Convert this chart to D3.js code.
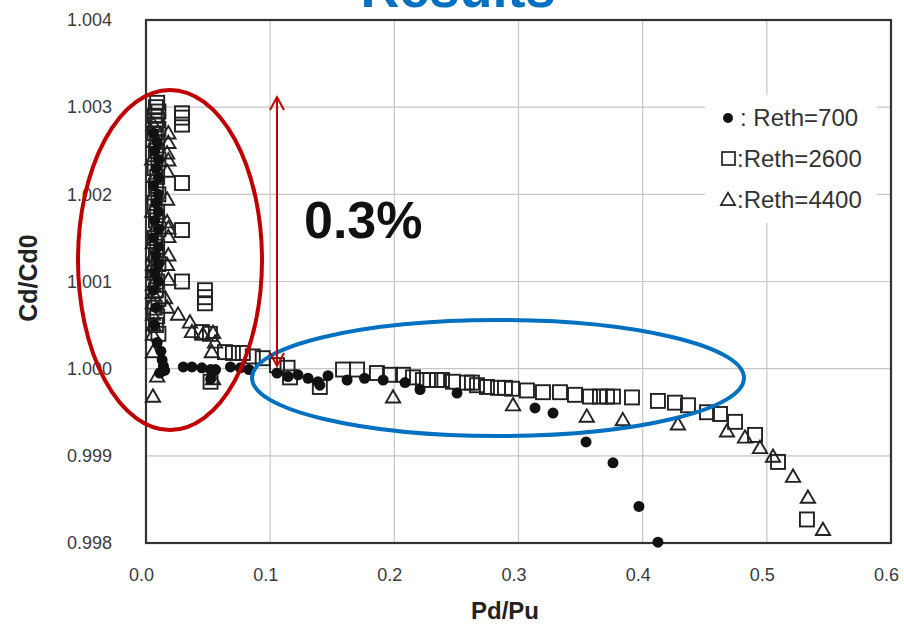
<!DOCTYPE html>
<html>
<head>
<meta charset="utf-8">
<script src="https://cdn.jsdelivr.net/npm/d3@7"></script>
<style>
  body { margin: 0; background: #fff; }
  svg { display: block; font-family: Arial, "Liberation Sans", sans-serif; }
</style>
</head>
<body>
<svg id="chart" width="904" height="632"></svg>
<script>
// Pd/Pu, Cd/Cd0 pairs
const reth700 = [
  [0.006,1.0027],[0.009,1.0026],[0.007,1.0025],[0.010,1.0024],[0.008,1.0023],[0.010,1.0022],
  [0.006,1.0021],[0.010,1.0020],[0.008,1.0019],[0.010,1.0018],[0.007,1.0017],[0.010,1.0016],
  [0.006,1.0015],[0.010,1.0014],[0.008,1.0013],[0.010,1.0012],[0.007,1.0011],[0.010,1.0010],
  [0.006,1.0009],[0.008,1.0007],[0.007,1.0005],
  [0.009,1.0003],[0.012,1.0002],[0.013,1.0001],[0.014,1.00003],[0.015,0.99998],[0.011,0.99995],
  [0.030,1.00002],[0.037,1.00002],[0.045,1.00001],[0.052,0.99999],[0.056,0.99999],[0.068,1.00002],
  [0.076,1.00001],[0.083,0.99999],[0.052,0.99988],[0.1055,0.99995],[0.1144,0.99991],[0.1224,0.99993],
  [0.1305,0.99989],[0.1385,0.99985],[0.14,0.99981],[0.1466,0.99992],[0.162,0.99987],[0.176,0.99989],
  [0.191,0.99987],[0.2086,0.99984],[0.2207,0.99976],[0.2505,0.99972],[0.3133,0.99955],[0.3278,0.99949],
  [0.3544,0.99916],[0.3761,0.99892],[0.397,0.99842],[0.4123,0.99801]
]
const reth2600 = [
  [0.009,1.00305],[0.008,1.0030],[0.010,1.00295],[0.007,1.0029],[0.009,1.00285],[0.008,1.0028],
  [0.010,1.00275],[0.007,1.0027],[0.009,1.0026],[0.008,1.0025],[0.010,1.0024],[0.007,1.0023],
  [0.009,1.0022],[0.008,1.0021],[0.010,1.0020],[0.007,1.0019],[0.009,1.0018],[0.008,1.0017],
  [0.010,1.0016],[0.007,1.0015],[0.009,1.0014],[0.008,1.0013],[0.010,1.0012],[0.007,1.0011],
  [0.009,1.0010],[0.008,1.0009],[0.010,1.0008],[0.007,1.0007],[0.009,1.0006],[0.008,1.0005],
  [0.010,1.0004],[0.029,1.00293],[0.029,1.00288],[0.029,1.0028],[0.029,1.00213],[0.029,1.00159],
  [0.029,1.0010],[0.0475,1.0009],[0.0475,1.00082],[0.0475,1.00075],[0.045,1.00042],[0.0515,1.0004],
  [0.052,0.99985],[0.0636,1.00019],[0.070,1.00018],[0.078,1.00018],[0.086,1.00014],[0.094,1.00012],
  [0.1055,1.00004],[0.114,1.00001],[0.116,0.9999],[0.14,0.99979],[0.1587,0.99999],[0.170,0.99999],
  [0.186,0.99995],[0.1965,0.99993],[0.207,0.99993],[0.215,0.9999],[0.223,0.99987],[0.229,0.99987],
  [0.2344,0.99987],[0.2384,0.99987],[0.2472,0.99985],[0.2585,0.99984],[0.2625,0.99984],[0.2666,0.99981],
  [0.2746,0.99979],[0.2835,0.99978],[0.2891,0.99978],[0.2948,0.99977],[0.3068,0.99975],[0.3197,0.99973],
  [0.3334,0.99973],[0.3455,0.9997],[0.3576,0.99968],[0.3656,0.99968],[0.3713,0.99968],[0.3761,0.99968],
  [0.3914,0.99967],[0.4123,0.99963],[0.426,0.99961],[0.4365,0.99958],[0.4518,0.9995],[0.4623,0.99948],
  [0.4744,0.99939],[0.4905,0.99924],[0.509,0.99893],[0.5323,0.99827]
]
const reth4400 = [
  [0.006,1.0028],[0.007,1.0026],[0.005,1.0024],[0.007,1.0022],[0.006,1.0020],[0.005,1.0018],
  [0.007,1.0016],[0.0056,1.00144],[0.006,1.0013],[0.0056,1.00119],[0.0056,1.00111],[0.0056,1.00096],
  [0.0056,1.00087],[0.0056,1.00075],[0.0056,1.00062],[0.006,1.0005],[0.0056,1.00039],[0.0056,1.00019],
  [0.009,0.99991],[0.0056,0.99968],[0.018,1.0027],[0.018,1.00259],[0.017,1.00247],[0.018,1.00239],
  [0.017,1.00226],[0.017,1.00194],[0.017,1.00168],[0.018,1.00161],[0.018,1.00151],[0.018,1.0013],
  [0.017,1.00119],[0.018,1.00102],[0.0153,1.00081],[0.017,1.0007],[0.0258,1.00062],[0.0354,1.00053],
  [0.037,1.00042],[0.0459,1.00039],[0.054,1.00041],[0.0556,1.0003],[0.053,1.00019],[0.054,0.99988],
  [0.199,0.99967],[0.2956,0.99958],[0.355,0.99945],[0.384,0.99941],[0.4284,0.99936],[0.4679,0.99928],
  [0.4824,0.99921],[0.4945,0.99909],[0.505,0.99899],[0.5211,0.99876],[0.5331,0.99852],[0.5452,0.99815]
]
const xTicks = [0, 0.1, 0.2, 0.3, 0.4, 0.5, 0.6]
const yTicks = [0.998, 0.999, 1.000, 1.001, 1.002, 1.003, 1.004]
const legendLabels = [': Reth=700', ':Reth=2600', ':Reth=4400']

const svg = d3.select('#chart')
const x = d3.scaleLinear().domain([0, 0.6]).range([146, 891])
const y = d3.scaleLinear().domain([0.998, 1.004]).range([543, 20])

// title cut off by the top edge, as in the source picture
svg.append('text').attr('x', 458).attr('y', 7).attr('text-anchor', 'middle')
  .attr('font-size', 54).attr('font-weight', 'bold').attr('fill', '#0070c0').text('Results')

// grid
const grid = svg.append('g')
grid.selectAll('.gx').data(xTicks.slice(1, -1)).join('line')
  .attr('x1', d => x(d)).attr('x2', d => x(d)).attr('y1', y(1.004)).attr('y2', y(0.998))
  .attr('stroke', '#c6c6c6').attr('stroke-width', 1.2)
grid.selectAll('.gy').data(yTicks.slice(1, -1)).join('line')
  .attr('y1', d => y(d)).attr('y2', d => y(d)).attr('x1', x(0)).attr('x2', x(0.6))
  .attr('stroke', '#c6c6c6').attr('stroke-width', 1.2)

// axes labels
const xAxis = svg.append('g').attr('transform', 'translate(0,' + y(0.998) + ')')
  .call(d3.axisBottom(x).tickValues(xTicks).tickFormat(d3.format('.1f')).tickSize(0).tickPadding(25))
const yAxis = svg.append('g').attr('transform', 'translate(' + x(0) + ',0)')
  .call(d3.axisLeft(y).tickValues(yTicks).tickFormat(d3.format('.3f')).tickSize(0).tickPadding(34))
;[xAxis, yAxis].forEach(a => {
  a.select('.domain').remove()
  a.selectAll('text').attr('font-size', 18).attr('fill', '#3a3a3a').attr('font-family', 'Arial, "Liberation Sans", sans-serif')
})
xAxis.selectAll('text').attr('dx', -5)

// frame
svg.append('rect').attr('x', x(0)).attr('y', y(1.004)).attr('width', x(0.6) - x(0)).attr('height', y(0.998) - y(1.004))
  .attr('fill', 'none').attr('stroke', '#333').attr('stroke-width', 2.2)

svg.append('text').attr('x', 505).attr('y', 619).attr('text-anchor', 'middle')
  .attr('font-size', 24).attr('font-weight', 'bold').attr('fill', '#222').text('Pd/Pu')
svg.append('text').attr('transform', 'translate(37,278) rotate(-90)').attr('text-anchor', 'middle')
  .attr('font-size', 25).attr('font-weight', 'bold').attr('fill', '#222').text('Cd/Cd0')

// markers
const marks = svg.append('g')
const sq = 14
const tri = d3.symbol().type(d3.symbolTriangle).size(88)
marks.selectAll('.s').data(reth2600).join('rect')
  .attr('x', d => x(d[0]) - sq / 2).attr('y', d => y(d[1]) - sq / 2).attr('width', sq).attr('height', sq)
  .attr('fill', 'none').attr('stroke', '#222').attr('stroke-width', 1.9)
marks.selectAll('.t').data(reth4400).join('path')
  .attr('d', tri).attr('transform', d => 'translate(' + x(d[0]) + ',' + (y(d[1]) + 1) + ')')
  .attr('fill', 'none').attr('stroke', '#222').attr('stroke-width', 1.9)
marks.selectAll('.c').data(reth700).join('circle')
  .attr('cx', d => x(d[0])).attr('cy', d => y(d[1])).attr('r', 5.5).attr('fill', '#111')

// legend
const lg = svg.append('g').attr('transform', 'translate(705,95)')
lg.append('rect').attr('width', 172).attr('height', 128).attr('fill', '#fff')
lg.append('circle').attr('cx', 23).attr('cy', 23).attr('r', 5).attr('fill', '#111')
lg.append('rect').attr('x', 17).attr('y', 57).attr('width', 13).attr('height', 13)
  .attr('fill', 'none').attr('stroke', '#222').attr('stroke-width', 1.7)
lg.append('path').attr('d', tri).attr('transform', 'translate(23,106)')
  .attr('fill', 'none').attr('stroke', '#222').attr('stroke-width', 1.7)
lg.selectAll('.lt').data(legendLabels).join('text')
  .attr('x', (d, i) => i === 0 ? 35 : 32).attr('y', (d, i) => 31 + i * 41)
  .attr('font-size', 24).attr('fill', '#333').text(d => d)

// annotations
const ann = svg.append('g')
ann.append('ellipse').attr('cx', 170).attr('cy', 260).attr('rx', 92).attr('ry', 170)
  .attr('fill', 'none').attr('stroke', '#c00000').attr('stroke-width', 4)
ann.append('ellipse').attr('cx', 498).attr('cy', 378).attr('rx', 246).attr('ry', 58)
  .attr('fill', 'none').attr('stroke', '#0070c0').attr('stroke-width', 4)
const ax = 277, ay1 = 97, ay2 = 366
ann.append('line').attr('x1', ax).attr('x2', ax).attr('y1', ay1).attr('y2', ay2)
  .attr('stroke', '#c00000').attr('stroke-width', 2)
ann.append('path').attr('d', `M${ax - 7},${ay1 + 13}L${ax},${ay1}L${ax + 7},${ay1 + 13}M${ax - 7},${ay2 - 13}L${ax},${ay2}L${ax + 7},${ay2 - 13}`)
  .attr('fill', 'none').attr('stroke', '#c00000').attr('stroke-width', 2)
ann.append('text').attr('x', 304).attr('y', 238).attr('font-size', 52).attr('font-weight', 'bold')
  .attr('fill', '#111').text('0.3%')
</script>
</body>
</html>
